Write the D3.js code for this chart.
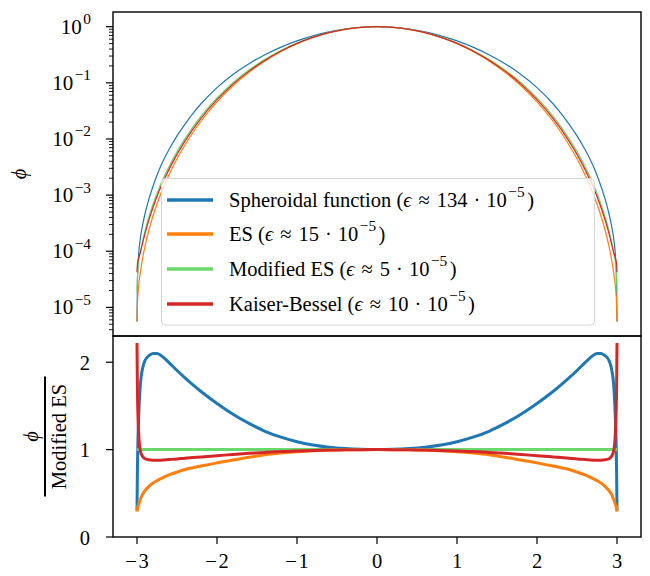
<!DOCTYPE html>
<html><head><meta charset="utf-8">
<script src="https://cdn.jsdelivr.net/npm/d3@7"></script>
<style>
body{margin:0;background:#fff}
text{font-family:"Liberation Serif","DejaVu Serif",serif;fill:#000}
</style>
</head><body>
<svg id="c" width="650" height="576"></svg>
<script>
// ---- data ----
const xValues = [-3,-2.995,-2.98,-2.96,-2.93,-2.9,-2.85,-2.8,-2.75,-2.7,-2.6,-2.5,-2.4,-2.3,-2.2,-2,-1.8,-1.6,-1.4,-1.2,-1,-0.8,-0.6,-0.4,-0.2,0,
  0.2,0.4,0.6,0.8,1,1.2,1.4,1.6,1.8,2,2.2,2.3,2.4,2.5,2.6,2.7,2.75,2.8,2.85,2.9,2.93,2.96,2.98,2.995,3];
// Modified ES kernel value phi(x)
const modifiedES = [1.895e-5,3.455e-5,6.31e-5,9.396e-5,1.511e-4,2.304e-4,4.159e-4,6.855e-4,1.078e-3,1.614e-3,3.244e-3,5.963e-3,1.014e-2,1.647e-2,2.547e-2,5.385e-2,0.1006,0.1689,0.2618,0.3782,0.5121,0.6527,0.7884,0.9001,0.9743,1,
  0.9743,0.9001,0.7884,0.6527,0.5121,0.3782,0.2618,0.1689,0.1006,5.385e-2,2.547e-2,1.647e-2,1.014e-2,5.963e-3,3.244e-3,1.614e-3,1.078e-3,6.855e-4,4.159e-4,2.304e-4,1.511e-4,9.396e-5,6.31e-5,3.455e-5,1.895e-5];
// ratio phi / Modified ES for each kernel
const ratioSpheroidal = [0.30,0.75,1.35,1.72,1.93,2.02,2.075,2.10,2.10,2.078,1.995,1.905,1.82,1.74,1.665,1.528,1.405,1.30,1.21,1.142,1.09,1.053,1.028,1.012,1.003,1,
  1.003,1.012,1.028,1.053,1.09,1.142,1.21,1.30,1.405,1.528,1.665,1.74,1.82,1.905,1.995,2.078,2.10,2.10,2.075,2.02,1.93,1.72,1.35,0.75,0.30];
const ratioES = [0.29,0.325,0.37,0.425,0.49,0.53,0.58,0.618,0.645,0.668,0.71,0.743,0.772,0.793,0.812,0.848,0.88,0.912,0.94,0.96,0.976,0.987,0.993,0.997,0.999,1,
  0.999,0.997,0.993,0.987,0.976,0.96,0.94,0.912,0.88,0.848,0.812,0.793,0.772,0.743,0.71,0.668,0.645,0.618,0.58,0.53,0.49,0.425,0.37,0.325,0.29];
const ratioModifiedES = [1,1,1,1,1,1,1,1,1,1,1,1,1,1,1,1,1,1,1,1,1,1,1,1,1,1,1,1,1,1,1,1,1,1,1,1,1,1,1,1,1,1,1,1,1,1,1,1,1,1,1];
const ratioKB = [2.22,1.7,1.2,0.99,0.92,0.895,0.883,0.879,0.878,0.879,0.886,0.893,0.902,0.909,0.916,0.93,0.945,0.958,0.968,0.977,0.985,0.991,0.995,0.998,0.9995,1,
  0.9995,0.998,0.995,0.991,0.985,0.977,0.968,0.958,0.945,0.93,0.916,0.909,0.902,0.893,0.886,0.879,0.878,0.879,0.883,0.895,0.92,0.99,1.2,1.7,2.22];

const seriesNames = ["Spheroidal function","ES","Modified ES","Kaiser-Bessel"];
const seriesEps = ["134","15","5","10"];
const seriesColors = ["#1f77b4","#ff7f0e","#6ad86a","#d62728"];
const seriesRatios = [ratioSpheroidal, ratioES, ratioModifiedES, ratioKB];

const xTicks = [-3,-2,-1,0,1,2,3];
const logTickExps = [0,-1,-2,-3,-4,-5];
const ratioTicks = [0,1,2];

// ---- layout ----
const svg = d3.select("#c");
const L = 113, R = 641, T1 = 12, B1 = 336, T2 = 336, B2 = 537;
const FS = 20.5;
const x = d3.scaleLinear().domain([-3.3, 3.3]).range([L, R]);
const yTop = d3.scaleLog().domain([Math.pow(10,-5.51), Math.pow(10,0.262)]).range([B1, T1]);
const yBot = d3.scaleLinear().domain([0, 2.3]).range([B2, T2]);

const pts = xValues.map((xv,i)=>({x:xv, i}));

// top panel curves (thin)
const gTop = svg.append("g");
seriesRatios.forEach((r,k)=>{
  const line = d3.line().x(d=>x(d.x)).y(d=>yTop(modifiedES[d.i]*r[d.i])).curve(d3.curveMonotoneX);
  gTop.append("path").attr("d", line(pts)).attr("fill","none")
    .attr("stroke", seriesColors[k]).attr("stroke-width",1.2);
});

// bottom panel curves (thick)
const gBot = svg.append("g");
seriesRatios.forEach((r,k)=>{
  const line = d3.line().x(d=>x(d.x)).y(d=>yBot(r[d.i])).curve(d3.curveMonotoneX);
  gBot.append("path").attr("d", line(pts)).attr("fill","none")
    .attr("stroke", seriesColors[k]).attr("stroke-width",3);
});

// frames
[[T1,B1],[T2,B2]].forEach(([t,b])=>{
  svg.append("rect").attr("x",L).attr("y",t).attr("width",R-L).attr("height",b-t)
    .attr("fill","none").attr("stroke","#000").attr("stroke-width",1.4);
});

// top y axis: major + minor log ticks
const gy1 = svg.append("g");
const [lo, hi] = yTop.domain();
for (let e=-6; e<=0; e++){
  for (let m=1; m<=9; m++){
    const v = m*Math.pow(10,e);
    if (v < lo || v > hi) continue;
    const len = m===1 ? 7 : 4;
    gy1.append("line").attr("x1",L).attr("x2",L-len).attr("y1",yTop(v)).attr("y2",yTop(v))
      .attr("stroke","#000").attr("stroke-width",m===1?1.2:0.9);
  }
}
logTickExps.forEach(e=>{
  const yy = yTop(Math.pow(10,e));
  const t = gy1.append("text").attr("x",91).attr("y",yy+7).attr("text-anchor","end").attr("font-size",FS+0.5);
  t.append("tspan").text("10");
  t.append("tspan").attr("dx",1.5).attr("dy",-9.5).attr("font-size",FS*0.75).text(e===0?"0":"\u2212"+(-e));
});

// bottom y axis
const gy2 = svg.append("g");
ratioTicks.forEach(v=>{
  const yy = yBot(v);
  gy2.append("line").attr("x1",L).attr("x2",L-7).attr("y1",yy).attr("y2",yy).attr("stroke","#000").attr("stroke-width",1.2);
  gy2.append("text").attr("x",90).attr("y",yy+7.5).attr("text-anchor","end").attr("font-size",FS).text(v);
});

// x axis
const gx = svg.append("g");
xTicks.forEach(v=>{
  const xx = x(v);
  gx.append("line").attr("x1",xx).attr("x2",xx).attr("y1",B2).attr("y2",B2+7).attr("stroke","#000").attr("stroke-width",1.2);
  const t = gx.append("text").attr("x",xx).attr("y",568).attr("text-anchor","middle").attr("font-size",FS);
  if (v<0){ t.append("tspan").text("\u2212"); t.append("tspan").attr("dx",1.5).text(-v); }
  else t.text(v);
});

// y labels
svg.append("text").attr("transform",`translate(26,${(T1+B1)/2}) rotate(-90)`).attr("text-anchor","middle")
  .attr("font-size",FS).attr("font-style","italic").text("\u03d5");
const fr = svg.append("g").attr("transform",`translate(45,${(T2+B2)/2}) rotate(-90)`);
fr.append("text").attr("x",0).attr("y",-7).attr("text-anchor","middle").attr("font-size",FS).attr("font-style","italic").text("\u03d5");
fr.append("line").attr("x1",-60).attr("x2",60).attr("y1",0).attr("y2",0).attr("stroke","#000").attr("stroke-width",2);
fr.append("text").attr("x",0).attr("y",21).attr("text-anchor","middle").attr("font-size",FS).text("Modified ES");

// legend
const lg = svg.append("g");
lg.append("rect").attr("x",161.5).attr("y",178.5).attr("width",433).attr("height",146.5).attr("rx",4)
  .attr("fill","#fff").attr("fill-opacity",0.8).attr("stroke","#d6d6d6").attr("stroke-width",1);
const rowY = [200, 234, 269, 304];
seriesNames.forEach((n,k)=>{
  lg.append("line").attr("x1",167).attr("x2",213).attr("y1",rowY[k]).attr("y2",rowY[k])
    .attr("stroke",seriesColors[k]).attr("stroke-width",3.5);
  const t = lg.append("text").attr("x",229).attr("y",rowY[k]+6.5).attr("font-size",FS);
  t.append("tspan").text(n+" (");
  t.append("tspan").attr("font-style","italic").text("\u03f5");
  t.append("tspan").attr("dx",7).text("\u2248");
  t.append("tspan").attr("dx",7).text(seriesEps[k]);
  t.append("tspan").attr("dx",6).text("\u00b7");
  t.append("tspan").attr("dx",6).text("10");
  t.append("tspan").attr("dx",1.5).attr("dy",-9.5).attr("font-size",FS*0.75).text("\u22125");
  t.append("tspan").attr("dx",2.5).attr("dy",9.5).text(")");
});
</script>
</body></html>
